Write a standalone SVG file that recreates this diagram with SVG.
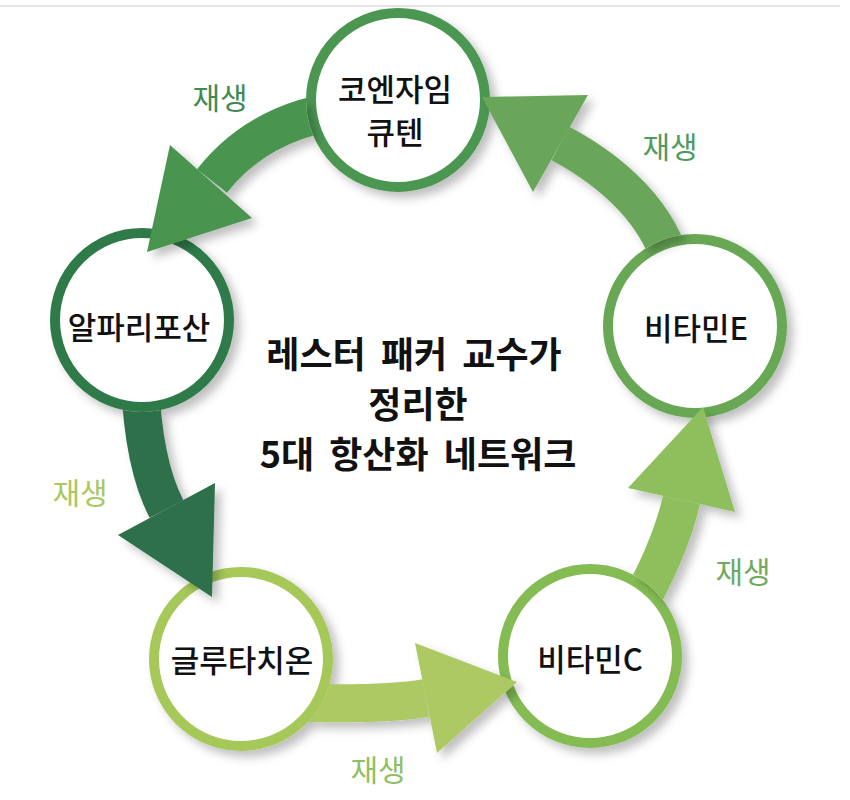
<svg xmlns="http://www.w3.org/2000/svg" width="850" height="800" viewBox="0 0 850 800">
<defs>
<style>
.node circle{fill:#fff;stroke-width:10}
.lbl{font-family:"Noto Sans CJK KR","Noto Sans",sans-serif;font-size:31px;font-weight:500;fill:#111;text-anchor:middle}
.ctr{font-family:"Noto Sans CJK KR","Noto Sans",sans-serif;font-size:36px;font-weight:700;fill:#111;text-anchor:middle;word-spacing:7px}
.regen{font-family:"Noto Sans CJK KR","Noto Sans",sans-serif;font-size:30px;font-weight:400;text-anchor:middle}
.shaft{fill:none;stroke-width:38;stroke-linecap:butt}
</style>
<filter id="sh" x="-30%" y="-30%" width="160%" height="160%">
<feDropShadow dx="6" dy="6" stdDeviation="5" flood-color="#000" flood-opacity="0.25"/>
</filter>
<mask id="cut" maskUnits="userSpaceOnUse" x="0" y="0" width="850" height="800">
<rect x="0" y="0" width="850" height="800" fill="#fff"/>
<circle cx="398" cy="100" r="92" fill="#000"/>
<circle cx="695" cy="326" r="92" fill="#000"/>
<circle cx="590" cy="656" r="92" fill="#000"/>
<circle cx="241" cy="659" r="92" fill="#000"/>
<circle cx="142" cy="320" r="92" fill="#000"/>
</mask>
</defs>
<rect width="850" height="800" fill="#fff"/>
<line x1="0" y1="6" x2="840" y2="6" stroke="#dcdcdc" stroke-width="1.5"/>

<g id="node-coq10" class="node">
<circle cx="398" cy="100" r="87" stroke="#4b9751" filter="url(#sh)"/>
<text class="lbl" x="395" y="101">코엔자임</text>
<text class="lbl" x="395" y="144">큐텐</text>
</g>
<g id="node-vitE" class="node">
<circle cx="695" cy="326" r="87" stroke="#67a855" filter="url(#sh)"/>
<text class="lbl" x="696" y="340">비타민E</text>
</g>
<g id="node-vitC" class="node">
<circle cx="590" cy="656" r="87" stroke="#84bc53" filter="url(#sh)"/>
<text class="lbl" x="590" y="671">비타민C</text>
</g>
<g id="node-glut" class="node">
<circle cx="241" cy="659" r="87" stroke="#a6c859" filter="url(#sh)"/>
<text class="lbl" x="242" y="672">글루타치온</text>
</g>
<g id="node-ala" class="node">
<circle cx="142" cy="320" r="87" stroke="#2f7a4a" filter="url(#sh)"/>
<text class="lbl" x="139" y="339">알파리포산</text>
</g>

<g id="connectors" filter="url(#sh)">
<g mask="url(#cut)">
<path class="shaft" stroke="#4a9450" d="M330,112 Q255,126 212,181"/>
<path class="shaft" stroke="#2e6f48" d="M140,380 Q143,464 166.5,509"/>
<path class="shaft" stroke="#acc964" d="M280,702 Q380,706 426,698"/>
<path class="shaft" stroke="#8ebf5c" d="M630,620 Q669,554 681.5,500"/>
<path class="shaft" stroke="#6aa65a" d="M675,280 C665,215 610,170 560.5,143.5"/>
</g>
<polygon fill="#4a9450" points="147,252 170,145 252,218"/>
<polygon fill="#2e6f48" points="212,597 118,535 215,483"/>
<polygon fill="#acc964" points="517,682 415,643 437,753"/>
<polygon fill="#8ebf5c" points="703,407 628,488 735,512"/>
<polygon fill="#6aa65a" points="482,97 588,95 533,192"/>
</g>

<g id="labels">
<text class="regen" x="220" y="109" fill="#3f8a52">재생</text>
<text class="regen" x="670" y="158" fill="#4f9a5e">재생</text>
<text class="regen" x="80" y="504" fill="#a9c860">재생</text>
<text class="regen" x="743" y="583" fill="#70aa60">재생</text>
<text class="regen" x="378" y="781" fill="#90c065">재생</text>
</g>

<g id="title">
<text class="ctr" x="414" y="368">레스터 패커 교수가</text>
<text class="ctr" x="418" y="418">정리한</text>
<text class="ctr" x="418" y="468">5대 항산화 네트워크</text>
</g>
</svg>
